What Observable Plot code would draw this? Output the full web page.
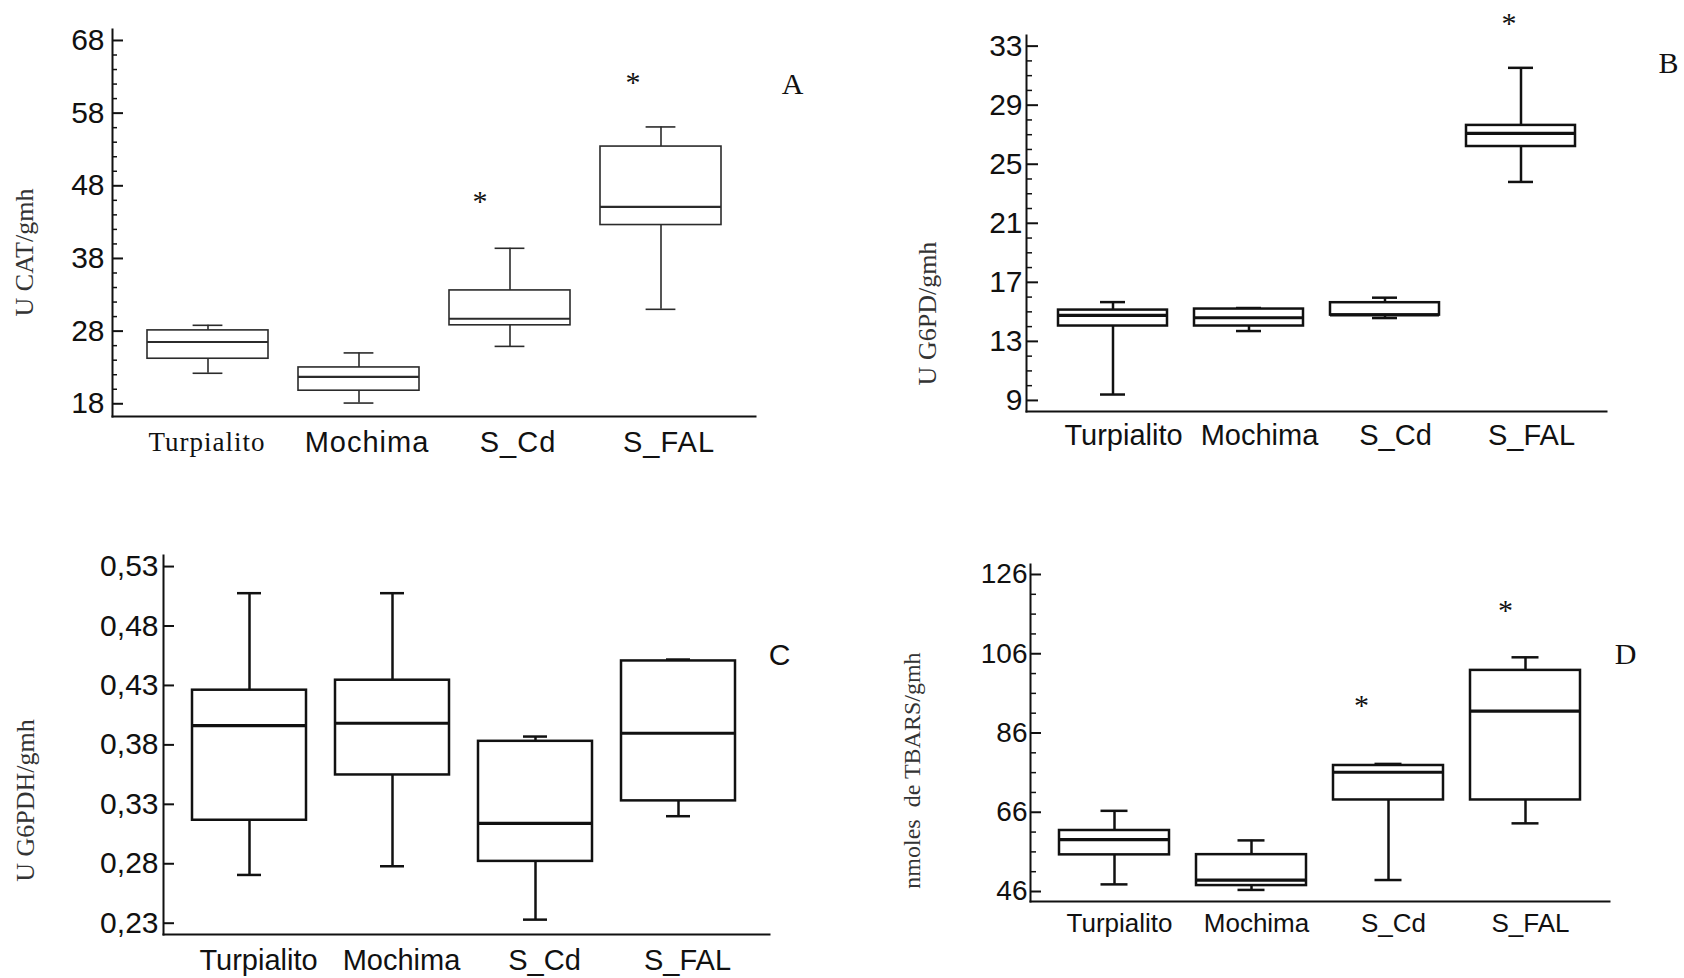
<!DOCTYPE html>
<html><head><meta charset="utf-8">
<script src="https://cdn.jsdelivr.net/npm/d3@7"></script>
<script src="https://cdn.jsdelivr.net/npm/@observablehq/plot@0.6"></script>
<style>
html,body{margin:0;padding:0;background:#fff;}
#wrap{position:relative;width:1684px;height:978px;overflow:hidden;background:#fff;}
.panel{position:absolute;}
.panel svg{overflow:visible;}
#pA [aria-label="x-axis tick label"] text{letter-spacing:1px;}
</style></head><body><div id="wrap"></div>
<script>
const categories = ["Turpialito", "Mochima", "S_Cd", "S_FAL"];

// Panel A: U CAT/gmh
const aLow  = [22.2, 18.1, 25.9, 31.0];
const aQ1   = [24.2, 19.8, 28.8, 42.6];
const aMed  = [26.5, 21.7, 29.7, 45.1];
const aQ3   = [28.1, 23.0, 33.6, 53.4];
const aHigh = [28.8, 25.0, 39.4, 56.1];
const aStarCats = ["S_Cd", "S_FAL"];
const aStarVals = [46.3, 62.6];
const aTicks = [18, 28, 38, 48, 58, 68];

// Panel B: U G6PD/gmh
const bLow  = [9.4, 13.7, 14.58, 23.8];
const bQ1   = [14.04, 14.04, 14.78, 26.2];
const bMed  = [14.76, 14.6, 14.8, 27.09];
const bQ3   = [15.12, 15.19, 15.62, 27.63];
const bHigh = [15.66, 15.26, 15.96, 31.53];
const bStarCats = ["S_FAL"];
const bStarVals = [34.74];
const bTicks = [9, 13, 17, 21, 25, 29, 33];

// Panel C: U G6PDH/gmh
const cLow  = [0.2706, 0.2779, 0.233, 0.320];
const cQ1   = [0.3166, 0.3547, 0.282, 0.3329];
const cMed  = [0.3962, 0.3982, 0.314, 0.3898];
const cQ3   = [0.426, 0.4344, 0.383, 0.4506];
const cHigh = [0.5076, 0.5076, 0.387, 0.4518];
const cStarCats = [];
const cStarVals = [];
const cTicks = [0.23, 0.28, 0.33, 0.38, 0.43, 0.48, 0.53];

// Panel D: nmoles de TBARS/gmh
const dLow  = [47.8, 46.4, 48.9, 63.2];
const dQ1   = [55.25, 47.5, 69.1, 69.1];
const dMed  = [59.1, 48.86, 76.1, 91.5];
const dQ3   = [61.4, 55.3, 77.8, 101.8];
const dHigh = [66.36, 58.9, 78.2, 105.1];
const dStarCats = ["S_Cd", "S_FAL"];
const dStarVals = [93.8, 117.75];
const dTicks = [46, 66, 86, 106, 126];

const SANS = "'Liberation Sans', Arial, sans-serif";
const SERIF = "'Liberation Serif', 'Times New Roman', serif";

function panel(cfg) {
  const rows = categories.map((c, i) => ({cat: c, low: cfg.low[i], q1: cfg.q1[i], med: cfg.med[i], q3: cfg.q3[i], high: cfg.high[i]}));
  const W = 842;
  const plotW = W - cfg.ml - cfg.mr;
  const sty = {stroke: cfg.stroke, strokeWidth: cfg.sw};
  const marks = [
    Plot.ruleX(rows, {x: "cat", y1: "low", y2: "high", ...sty}),
    Plot.tickY(rows, {x: "cat", y: "low", insetLeft: cfg.capInset, insetRight: cfg.capInset, ...sty}),
    Plot.tickY(rows, {x: "cat", y: "high", insetLeft: cfg.capInset, insetRight: cfg.capInset, ...sty}),
    Plot.barY(rows, {x: "cat", y1: "q1", y2: "q3", fill: "white", ...sty}),
    Plot.tickY(rows, {x: "cat", y: "med", stroke: cfg.stroke, strokeWidth: cfg.medW}),
    Plot.frame({anchor: "left", stroke: "#111", strokeWidth: 2}),
    Plot.frame({anchor: "bottom", stroke: "#111", strokeWidth: 2}),
    Plot.tickY(cfg.ticks, {y: d => d, insetRight: plotW - cfg.majorLen, stroke: "#111", strokeWidth: 2}),
    Plot.tickY(cfg.minors, {y: d => d, insetRight: plotW - cfg.minorLen, stroke: "#111", strokeWidth: 1.5}),
    Plot.axisY({ticks: cfg.ticks, tickSize: 0, tickPadding: cfg.yPad, tickFormat: cfg.fmt, fontSize: cfg.yFont, fontFamily: SANS, fill: "#111", label: null}),
    Plot.text([cfg.title], {text: d => d, frameAnchor: "left", textAnchor: "middle", lineAnchor: "middle", rotate: -90, dx: cfg.titleDx, dy: cfg.titleDy, fontFamily: SERIF, fontSize: cfg.titleSize, fill: "#333"}),
    Plot.text([cfg.letter], {text: d => d, frameAnchor: "top-right", textAnchor: "middle", lineAnchor: "middle", dx: cfg.letterDx, dy: cfg.letterDy, fontFamily: cfg.letterFont, fontSize: 30, fill: "#111"})
  ];
  for (const ax of cfg.xAxes) marks.push(Plot.axisX({ticks: ax.ticks, tickSize: 0, tickPadding: cfg.xPad, dx: ax.dx, fontSize: ax.size, fontFamily: ax.font, fill: "#111", label: null}));
  cfg.starCats.forEach((c, i) => {
    marks.push(Plot.text([c], {x: d => d, y: () => cfg.starVals[i], text: () => "*", dx: cfg.starDx[i], dy: 3, fontFamily: SERIF, fontSize: 30, fill: "#111"}));
  });
  const svg = Plot.plot({
    width: W, height: cfg.height,
    marginLeft: cfg.ml, marginRight: cfg.mr, marginTop: cfg.mt, marginBottom: cfg.mb,
    style: {background: "transparent", color: "#111", overflow: "visible"},
    x: {domain: categories, type: "band", paddingInner: 0.2, paddingOuter: cfg.po, align: cfg.align},
    y: {domain: cfg.yDomain},
    marks
  });
  const div = document.createElement("div");
  div.className = "panel";
  div.id = cfg.id;
  div.style.left = cfg.left + "px";
  div.style.top = cfg.top + "px";
  div.appendChild(svg);
  document.getElementById("wrap").appendChild(div);
}

const fmtInt = d => String(d);
const fmtComma = d => d.toFixed(2).replace(".", ",");

panel({
  id: "pA", left: 0, top: 0, height: 480, ml: 112, mr: 87, mt: 29, mb: 64,
  yDomain: [16.25, 69.51], ticks: aTicks, minors: d3.range(18, 69, 2).filter(v => !aTicks.includes(v)),
  majorLen: 11, minorLen: 5, po: 0.22, align: 0.5, capInset: 45.6,
  stroke: "#2b2b2b", sw: 1.6, medW: 2.2, yPad: 8, yFont: 30, fmt: fmtInt, xPad: 15,
  xAxes: [
    {ticks: ["Turpialito"], dx: -1, size: 27, font: SERIF},
    {ticks: ["Mochima", "S_Cd", "S_FAL"], dx: 8, size: 29, font: SANS}
  ],
  low: aLow, q1: aQ1, med: aMed, q3: aQ3, high: aHigh,
  title: "U CAT/gmh", titleDx: -88, titleDy: 29.5, titleSize: 26,
  letter: "A", letterFont: SERIF, letterDx: 37, letterDy: 55,
  starCats: aStarCats, starVals: aStarVals, starDx: [-30, -28]
});

panel({
  id: "pB", left: 842, top: 0, height: 480, ml: 184, mr: 78, mt: 35, mb: 69,
  yDomain: [8.25, 33.72], ticks: bTicks, minors: d3.range(9, 34, 1).filter(v => !bTicks.includes(v)),
  majorLen: 12, minorLen: 6, po: 0.217, align: 0.5, capInset: 42,
  stroke: "#111", sw: 2.5, medW: 3.2, yPad: 4, yFont: 30, fmt: fmtInt, xPad: 13,
  xAxes: [{ticks: categories, dx: 10.5, size: 29, font: SANS}],
  low: bLow, q1: bQ1, med: bMed, q3: bQ3, high: bHigh,
  title: "U G6PD/gmh", titleDx: -99, titleDy: 90, titleSize: 26,
  letter: "B", letterFont: SERIF, letterDx: 62, letterDy: 28,
  starCats: bStarCats, starVals: bStarVals, starDx: [-12]
});

panel({
  id: "pC", left: 0, top: 500, height: 478, ml: 163, mr: 73, mt: 55, mb: 44,
  yDomain: [0.2205, 0.5393], ticks: cTicks, minors: [],
  majorLen: 11, minorLen: 6, po: 0.209, align: 0.47, capInset: 45,
  stroke: "#111", sw: 2.5, medW: 3.2, yPad: 5, yFont: 30, fmt: fmtComma, xPad: 15,
  xAxes: [{ticks: categories, dx: 9, size: 29, font: SANS}],
  low: cLow, q1: cQ1, med: cMed, q3: cQ3, high: cHigh,
  title: "U G6PDH/gmh", titleDx: -138, titleDy: 55.5, titleSize: 26,
  letter: "C", letterFont: SANS, letterDx: 10, letterDy: 100,
  starCats: cStarCats, starVals: cStarVals, starDx: []
});

panel({
  id: "pD", left: 842, top: 500, height: 478, ml: 188, mr: 75, mt: 64, mb: 77,
  yDomain: [43.48, 128.52], ticks: dTicks, minors: d3.range(46, 127, 5).filter(v => !dTicks.includes(v)),
  majorLen: 11, minorLen: 6, po: 0.207, align: 0.5, capInset: 41.5,
  stroke: "#111", sw: 2.5, medW: 3.2, yPad: 3, yFont: 28, fmt: fmtInt, xPad: 12,
  xAxes: [{ticks: categories, dx: 5, size: 26, font: SANS}],
  low: dLow, q1: dQ1, med: dMed, q3: dQ3, high: dHigh,
  title: "nmoles\u00a0\u00a0de TBARS/gmh", titleDx: -118, titleDy: 37.5, titleSize: 24,
  letter: "D", letterFont: SERIF, letterDx: 16, letterDy: 90,
  starCats: dStarCats, starVals: dStarVals, starDx: [-27, -20]
});
</script></body></html>
